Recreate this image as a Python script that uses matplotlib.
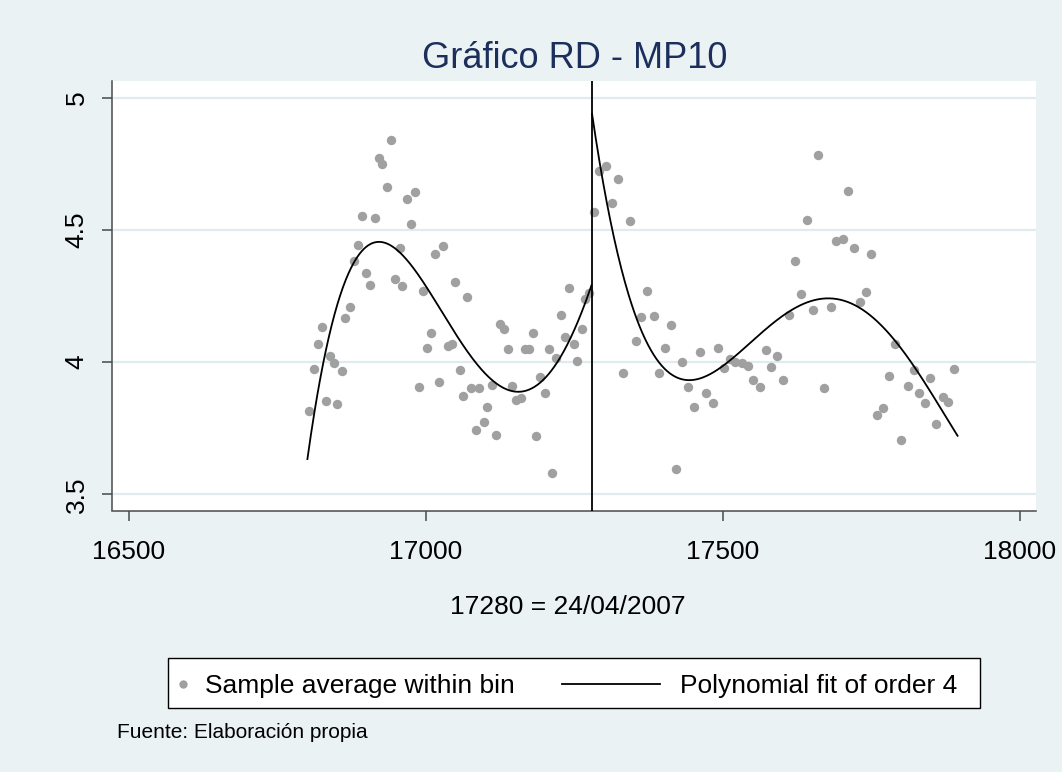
import numpy as np
import matplotlib
matplotlib.use("Agg")
import matplotlib.pyplot as plt
from matplotlib.lines import Line2D
from matplotlib.patches import Rectangle

plt.rcParams['font.family'] = ['Liberation Sans', 'DejaVu Sans']

# ======================================
# Data (bin averages)
# ======================================
cutoff = 17280
fit_order = 4

x_left = [16804, 16812, 16818, 16825, 16832, 16839, 16845, 16851, 16859, 16865,
          16873, 16880, 16886, 16893, 16900, 16906, 16914, 16921, 16927, 16935,
          16941, 16948, 16956, 16961, 16968, 16975, 16982, 16988, 16996, 17002,
          17009, 17016, 17023, 17030, 17037, 17044, 17050, 17057, 17063, 17069,
          17077, 17084, 17090, 17098, 17104, 17111, 17118, 17125, 17131, 17139,
          17146, 17152, 17160, 17167, 17174, 17180, 17186, 17193, 17200, 17207,
          17213, 17220, 17227, 17235, 17241, 17249, 17254, 17263, 17268, 17275]
y_left = [3.816, 3.975, 4.067, 4.134, 3.854, 4.023, 3.996, 3.842, 3.968, 4.168,
          4.207, 4.384, 4.442, 4.553, 4.336, 4.292, 4.544, 4.772, 4.748, 4.663,
          4.840, 4.316, 4.433, 4.289, 4.618, 4.521, 4.643, 3.907, 4.269, 4.052,
          4.110, 4.410, 3.924, 4.440, 4.061, 4.067, 4.303, 3.970, 3.873, 4.245,
          3.901, 3.742, 3.903, 3.774, 3.830, 3.912, 3.726, 4.143, 4.125, 4.050,
          3.910, 3.857, 3.865, 4.050, 4.051, 4.111, 3.719, 3.943, 3.882, 4.048,
          3.582, 4.014, 4.178, 4.095, 4.279, 4.067, 4.005, 4.124, 4.238, 4.260]

x_right = [17283, 17292, 17303, 17313, 17323, 17332, 17343, 17354, 17363, 17373,
           17384, 17393, 17402, 17412, 17421, 17432, 17442, 17452, 17462, 17472,
           17483, 17492, 17502, 17512, 17521, 17532, 17542, 17551, 17562, 17572,
           17581, 17591, 17602, 17612, 17622, 17631, 17641, 17651, 17660, 17670,
           17682, 17691, 17702, 17711, 17720, 17731, 17741, 17750, 17760, 17770,
           17780, 17790, 17800, 17811, 17821, 17830, 17840, 17849, 17859, 17870,
           17879, 17889]
y_right = [4.568, 4.724, 4.741, 4.601, 4.694, 3.960, 4.534, 4.080, 4.172, 4.270,
           4.174, 3.960, 4.052, 4.141, 3.597, 4.002, 3.907, 3.830, 4.038, 3.883,
           3.844, 4.052, 3.979, 4.012, 4.002, 3.998, 3.986, 3.932, 3.907, 4.045,
           3.980, 4.024, 3.932, 4.177, 4.384, 4.256, 4.539, 4.197, 4.784, 3.903,
           4.210, 4.457, 4.464, 4.647, 4.432, 4.228, 4.264, 4.410, 3.799, 3.828,
           3.949, 4.067, 3.704, 3.909, 3.970, 3.882, 3.847, 3.939, 3.767, 3.869,
           3.849, 3.975]

# range of the running variable on each side
left_support = (16801, 17279)
right_support = (17280, 17895)

x_ticks = [16500, 17000, 17500, 18000]
y_ticks = [3.5, 4, 4.5, 5]
y_tick_labels = ['3.5', '4', '4.5', '5']

# ======================================
# Style
# ======================================
W, H = 1062, 772
bg = '#EAF2F3'
grid_col = '#E0EBEE'
axis_col = '#4A4A4A'
dot_col = '#A0A0A0'


def fx(px):
    return px / W


def fy(py):
    return 1 - py / H


def poly_fit(xs, ys, lo, hi):
    xs = np.asarray(xs, float) - cutoff
    coef = np.polyfit(xs, ys, fit_order)
    grid = np.linspace(lo, hi, 400)
    return grid, np.polyval(coef, grid - cutoff)


fig = plt.figure(figsize=(W / 100, H / 100), dpi=100, facecolor=bg)
ax = fig.add_axes([fx(111.7), fy(510.5), (1036 - 111.7) / W, (510.5 - 80.7) / H])
ax.set_facecolor('white')

ax.scatter(x_left, y_left, s=46, color=dot_col, linewidths=0, zorder=3)
ax.scatter(x_right, y_right, s=46, color=dot_col, linewidths=0, zorder=3)

gx, gy = poly_fit(x_left, y_left, *left_support)
ax.plot(gx, gy, color='black', lw=1.3, zorder=4)
gx, gy = poly_fit(x_right, y_right, *right_support)
ax.plot(gx, gy, color='black', lw=1.3, zorder=4)

ax.axvline(cutoff, color='black', lw=1.3, zorder=4)

ax.set_xlim(16471.7, 18027)
ax.set_ylim(3.439, 5.064)
ax.set_xticks(x_ticks)
ax.set_yticks(y_ticks)
ax.set_yticklabels(y_tick_labels, rotation=90, va='center')
ax.yaxis.grid(True, color=grid_col, lw=1.6)
ax.set_axisbelow(True)

for side in ['top', 'right']:
    ax.spines[side].set_visible(False)
for side in ['left', 'bottom']:
    ax.spines[side].set_color(axis_col)
    ax.spines[side].set_linewidth(1.1)
ax.tick_params(direction='out', length=7.5, width=1.1, color=axis_col,
               labelsize=19, pad=9)
ax.tick_params(axis='x', pad=14)

# titles
fig.text(fx(575), fy(68.3), 'Gráfico RD - MP10', ha='center', va='baseline',
         fontsize=26, color='#1C2F5C')
fig.text(fx(568), fy(614), '17280 = 24/04/2007', ha='center', va='baseline',
         fontsize=19)

# legend box (Stata style)
fig.add_artist(Rectangle((fx(167.7), fy(708.3)), (979.5 - 167.7) / W, 50 / H,
                         transform=fig.transFigure, facecolor='white',
                         edgecolor='black', lw=1.0))
fig.add_artist(Line2D([fx(183)], [fy(684)], marker='o', ms=6, color=dot_col,
                      mec='none', linestyle='none', transform=fig.transFigure))
fig.text(fx(205), fy(693.3), 'Sample average within bin', va='baseline', fontsize=19)
fig.add_artist(Line2D([fx(562), fx(660)], [fy(684), fy(684)], color='black',
                      lw=1.3, transform=fig.transFigure))
fig.text(fx(680), fy(693.3), 'Polynomial fit of order 4', va='baseline', fontsize=19)

fig.text(fx(117), fy(738.3), 'Fuente: Elaboración propia', va='baseline', fontsize=15)

fig.savefig('out.png', dpi=100, facecolor=bg)
